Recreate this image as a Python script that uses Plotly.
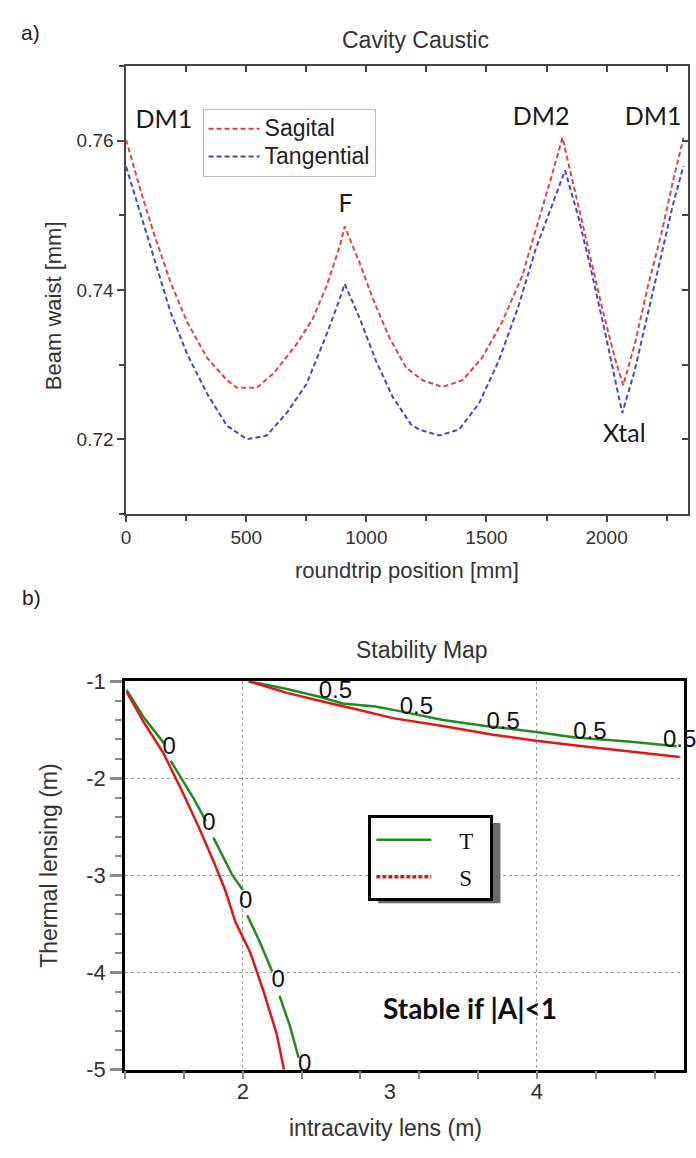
import plotly.graph_objects as go

W, H = 696, 1158


def px(x):
    return x / W


def py(y):
    return 1 - y / H


SANS = "Liberation Sans, Arial, sans-serif"
SERIF = "Liberation Serif, Times New Roman, serif"
HUMAN = "Lato, Open Sans, sans-serif"
NB = "\u00a0"


def big(t, size=23):
    return '<span style="font-size:%dpx">%s</span>' % (size, t)


# ---------------- a) Cavity caustic data ----------------
pos_sag = [0, 61, 116, 185, 254, 337, 420, 461, 544, 613, 709, 778, 834, 889, 910,
           972, 1027, 1096, 1165, 1234, 1317, 1400, 1482, 1565, 1648, 1717, 1772,
           1816, 1869, 1924, 1979, 2034, 2069, 2117, 2172, 2228, 2276, 2320]
waist_sag = [0.7601, 0.7532, 0.7475, 0.7410, 0.7357, 0.7309, 0.7279, 0.7269, 0.7269,
             0.7288, 0.7327, 0.7362, 0.7405, 0.7458, 0.7485, 0.7436, 0.7388, 0.7336,
             0.7296, 0.7279, 0.7270, 0.7279, 0.7309, 0.7357, 0.7418, 0.7492, 0.7553,
             0.7604, 0.7532, 0.7453, 0.7379, 0.7309, 0.7272, 0.7327, 0.7405, 0.7475,
             0.7545, 0.7604]

pos_tan = [0, 61, 116, 185, 254, 337, 420, 503, 585, 668, 751, 834, 889, 910, 972,
           1040, 1109, 1185, 1220, 1303, 1386, 1469, 1551, 1634, 1703, 1772, 1827,
           1883, 1938, 1993, 2034, 2065, 2117, 2172, 2228, 2276, 2320]
waist_tan = [0.7565, 0.7501, 0.7440, 0.7370, 0.7314, 0.7261, 0.7218, 0.7200, 0.7205,
             0.7235, 0.7274, 0.7340, 0.7388, 0.7408, 0.7362, 0.7305, 0.7257, 0.7220,
             0.7213, 0.7205, 0.7213, 0.7248, 0.7305, 0.7379, 0.7453, 0.7514, 0.7560,
             0.7497, 0.7423, 0.7344, 0.7283, 0.7235, 0.7292, 0.7370, 0.7449, 0.7514,
             0.7566]

element_labels = ["DM1", "F", "DM2", "DM1", "Xtal"]
element_x = [157, 913, 1727, 2194, 2074]
element_y = [0.7625, 0.7512, 0.7629, 0.7629, 0.7205]

# ---------------- b) Stability map data ----------------
lens_T0 = [1.21, 1.33, 1.47, None, 1.51, 1.59, 1.67, 1.75, None, 1.80, 1.93, 2.00,
           None, 2.03, 2.12, 2.20, None, 2.25, 2.32, 2.38]
therm_T0 = [-1.09, -1.38, -1.65, None, -1.82, -2.02, -2.22, -2.44, None, -2.61, -3.00,
            -3.15, None, -3.41, -3.70, -3.99, None, -4.24, -4.55, -4.88]

lens_S0 = [1.21, 1.33, 1.46, 1.59, 1.70, 1.80, 1.88, 1.95, 2.05, 2.14, 2.23, 2.28]
therm_S0 = [-1.11, -1.43, -1.74, -2.14, -2.50, -2.85, -3.15, -3.48, -3.79, -4.19,
            -4.63, -5.00]

lens_T05 = [2.04, 2.30, 2.52, 2.68, 2.90, 3.04, 3.36, 3.65, 3.98, 4.26, 4.62, 4.95]
therm_T05 = [-1.00, -1.08, -1.16, -1.23, -1.26, -1.30, -1.40, -1.46, -1.52, -1.58,
             -1.62, -1.67]

lens_S05 = [2.04, 2.30, 2.60, 2.75, 3.02, 3.36, 3.70, 3.98, 4.31, 4.62, 4.97]
therm_S05 = [-1.00, -1.12, -1.23, -1.28, -1.38, -1.46, -1.55, -1.61, -1.67, -1.72,
             -1.78]

contour_text = ["0", "0", "0", "0", "0", "0", "0.5", "0.5", "0.5", "0.5", "0.5"]
contour_text_x = [1.20, 1.50, 1.77, 2.02, 2.24, 2.42, 2.63, 3.18, 3.77, 4.36, 4.97]
contour_text_y = [-0.99, -1.69, -2.47, -3.27, -4.09, -4.95, -1.11, -1.28, -1.43,
                  -1.53, -1.62]

x_ticks_b = [2, 3, 4]
x_grid_b = [2, 4]
y_ticks_b = [-1, -2, -3, -4, -5]
y_ticktext_b = ["-1", "-2", "-3", "-4", "-5"]

RED_A = "#dc4646"
BLUE_A = "#4646c8"
GREEN = "#1e8c1e"
RED_B = "#e61414"

fig = go.Figure()

fig.add_trace(go.Scatter(x=pos_sag, y=waist_sag, mode="lines", name=big("Sagital"),
                         line=dict(color=RED_A, width=2, dash="5px,3px"),
                         xaxis="x", yaxis="y", legend="legend"))
fig.add_trace(go.Scatter(x=pos_tan, y=waist_tan, mode="lines", name=big("Tangential"),
                         line=dict(color=BLUE_A, width=2, dash="5px,3px"),
                         xaxis="x", yaxis="y", legend="legend"))
fig.add_trace(go.Scatter(x=element_x, y=element_y, mode="text", text=element_labels,
                         textfont=dict(family=HUMAN, size=25, color="#1a1a1a"),
                         showlegend=False, cliponaxis=False, hoverinfo="skip",
                         xaxis="x", yaxis="y"))

fig.add_trace(go.Scatter(x=lens_T0, y=therm_T0, mode="lines",
                         name=NB * 4 + "T" + NB * 2,
                         line=dict(color=GREEN, width=2.5), legend="legend2",
                         legendgroup="T", xaxis="x2", yaxis="y2"))
fig.add_trace(go.Scatter(x=lens_S0, y=therm_S0, mode="lines", name="S",
                         line=dict(color=RED_B, width=2.5), showlegend=False,
                         xaxis="x2", yaxis="y2"))
fig.add_trace(go.Scatter(x=lens_T05, y=therm_T05, mode="lines", name="T",
                         line=dict(color=GREEN, width=2.5), showlegend=False,
                         xaxis="x2", yaxis="y2"))
fig.add_trace(go.Scatter(x=lens_S05, y=therm_S05, mode="lines", name="S",
                         line=dict(color=RED_B, width=2.5), showlegend=False,
                         xaxis="x2", yaxis="y2"))
fig.add_trace(go.Scatter(x=[None], y=[None], mode="lines",
                         name=NB * 4 + "S" + NB * 2,
                         line=dict(color="#c81e1e", width=3.5, dash="4px,2px"),
                         legend="legend2", legendgroup="S", xaxis="x2", yaxis="y2"))
fig.add_trace(go.Scatter(x=contour_text_x, y=contour_text_y, mode="text",
                         text=contour_text,
                         textfont=dict(family=SANS, size=24, color="#111"),
                         showlegend=False, cliponaxis=False, hoverinfo="skip",
                         xaxis="x2", yaxis="y2"))

# empty traces so that the decorative overlay axes (inner ticks, grid) get drawn
for xa, ya in [("x3", "y"), ("x", "y3"), ("x4", "y2"), ("x5", "y2")]:
    fig.add_trace(go.Scatter(x=[None], y=[None], mode="lines", showlegend=False,
                             hoverinfo="skip", xaxis=xa, yaxis=ya))

AX_A = "#444444"
GRAY_T = "#8a8a8a"

fig.update_layout(
    width=W, height=H, autosize=False,
    margin=dict(l=0, r=0, t=0, b=0),
    paper_bgcolor="white", plot_bgcolor="white",
    font=dict(family=SANS, color="#333"),
    xaxis=dict(domain=[px(122), px(688)], range=[0, 2339], anchor="y",
               tick0=0, dtick=500, ticks="outside", ticklen=6, tickwidth=1.5,
               tickcolor=AX_A, showline=True, linecolor=AX_A, linewidth=1.5,
               mirror=True, showgrid=False, zeroline=False,
               tickfont=dict(size=19, color="#333"),
               minor=dict(dtick=250, ticks="outside", ticklen=5, tickwidth=1.5,
                          tickcolor=AX_A)),
    xaxis3=dict(overlaying="x", side="top", anchor="y", range=[0, 2339],
                tick0=0, dtick=250, ticks="inside", ticklen=6, tickwidth=1.5,
                tickcolor=AX_A, showticklabels=False, showgrid=False,
                zeroline=False, showline=False),
    yaxis=dict(domain=[py(513), py(55)], range=[0.7100, 0.7700], anchor="x",
               tick0=0.72, dtick=0.02, tickformat=".2f", ticks="outside", ticklen=7,
               tickwidth=1.5, tickcolor=AX_A, showline=True, linecolor=AX_A,
               linewidth=1.5, mirror=True, showgrid=False, zeroline=False,
               tickfont=dict(size=19, color="#333"),
               minor=dict(dtick=0.01, ticks="outside", ticklen=5, tickwidth=1.5,
                          tickcolor=AX_A)),
    yaxis3=dict(overlaying="y", side="right", anchor="x", range=[0.7100, 0.7700],
                tick0=0.71, dtick=0.01, ticks="inside", ticklen=6, tickwidth=1.5,
                tickcolor=AX_A, showticklabels=False, showgrid=False,
                zeroline=False, showline=False),
    xaxis2=dict(domain=[px(121), px(684)], range=[1.2, 5.0], anchor="y2",
                tickmode="array", tickvals=x_ticks_b, ticks="", showline=True,
                linecolor="black", linewidth=3, mirror=True, showgrid=False,
                zeroline=False, tickfont=dict(size=22, color="#333")),
    xaxis4=dict(overlaying="x2", side="bottom", anchor="y2", range=[1.2, 5.0],
                tickmode="linear", tick0=1.2, dtick=0.4, ticks="outside", ticklen=8,
                tickwidth=2, tickcolor=GRAY_T, showticklabels=False,
                showgrid=False, zeroline=False, showline=False),
    xaxis5=dict(overlaying="x2", side="bottom", anchor="y2", range=[1.2, 5.0],
                tickmode="array", tickvals=x_grid_b, ticks="", showticklabels=False,
                showgrid=True, gridcolor="#9a9a9a", gridwidth=1, griddash="dot",
                zeroline=False, showline=False),
    yaxis2=dict(domain=[py(1081), py(684)], range=[-5, -1], anchor="x2",
                tickmode="array", tickvals=y_ticks_b, ticktext=y_ticktext_b,
                ticks="outside", ticklen=12, tickwidth=2.5, tickcolor=GRAY_T,
                showline=True, linecolor="black", linewidth=3, mirror=True,
                showgrid=True, gridcolor="#9a9a9a", gridwidth=1, griddash="dot",
                zeroline=False, tickfont=dict(size=22, color="#333"),
                minor=dict(dtick=0.2, tick0=-1, ticks="outside", ticklen=7,
                           tickwidth=2, tickcolor=GRAY_T, showgrid=False)),
    legend=dict(x=px(199), y=py(99), xanchor="left", yanchor="top",
                bgcolor="white", bordercolor="#bdbdbd", borderwidth=1,
                font=dict(family=SANS, size=19, color="#222"), itemwidth=51,
                tracegroupgap=0),
    legend2=dict(x=px(366), y=py(821), xanchor="left", yanchor="top",
                 bgcolor="white", bordercolor="black", borderwidth=3,
                 font=dict(family=SERIF, size=23, color="#111"), itemwidth=55,
                 tracegroupgap=4),
    showlegend=True,
)

shapes = [
    dict(type="rect", xref="paper", yref="paper", x0=px(376), x1=px(499),
         y0=py(911), y1=py(829), fillcolor="#6a6a6a", line=dict(width=0),
         layer="above"),
]
fig.update_layout(shapes=shapes)

annotations = [
    dict(text="a)", x=px(26), y=py(21), font=dict(size=21, family=SANS, color="#222")),
    dict(text="b)", x=px(27), y=py(598), font=dict(size=21, family=SANS, color="#222")),
    dict(text="Cavity Caustic", x=px(413), y=py(29), font=dict(size=23, family=SANS, color="#333")),
    dict(text="roundtrip position [mm]", x=px(405), y=py(571), font=dict(size=22, family=SANS, color="#333")),
    dict(text="Beam waist [mm]", x=px(49), y=py(300), textangle=-90, font=dict(size=22, family=SANS, color="#333")),
    dict(text="Stability Map", x=px(420), y=py(652), font=dict(size=23, family=SANS, color="#333")),
    dict(text="intracavity lens (m)", x=px(383), y=py(1141), font=dict(size=23, family=SANS, color="#333")),
    dict(text="Thermal lensing (m)", x=px(44), y=py(872), textangle=-90, font=dict(size=23, family=SANS, color="#333")),
    dict(text="<b>Stable if |A|<1</b>", x=px(468), y=py(1018), font=dict(size=28, family=HUMAN, color="#111")),
]
for a in annotations:
    a.update(xref="paper", yref="paper", showarrow=False, xanchor="center", yanchor="middle")
fig.update_layout(annotations=annotations)

fig.write_html("out.html")
